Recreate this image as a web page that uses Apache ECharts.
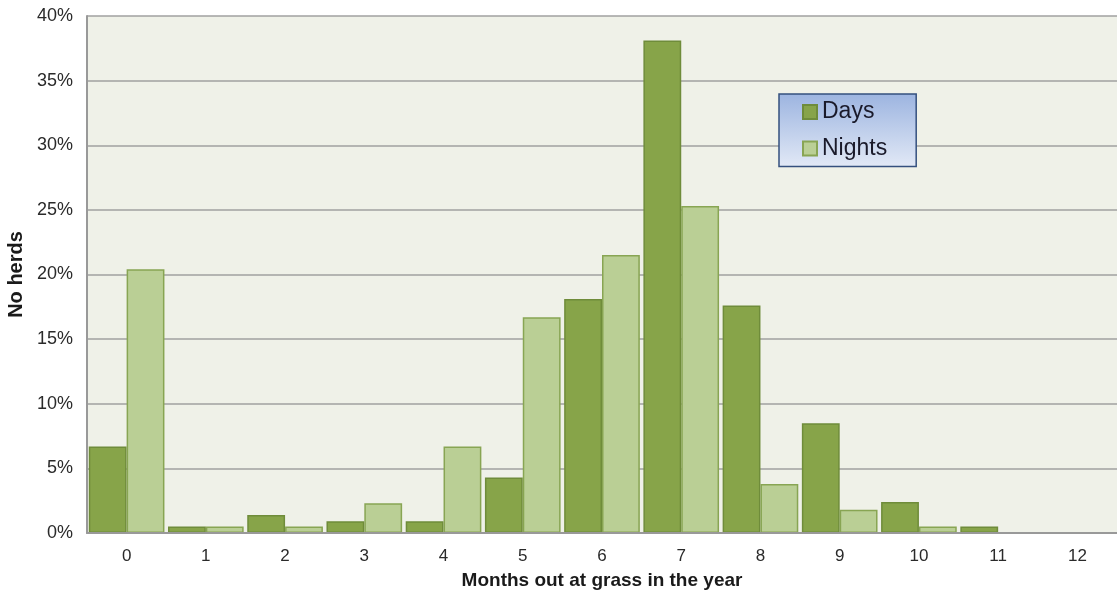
<!DOCTYPE html>
<html><head><meta charset="utf-8">
<script src="https://cdn.jsdelivr.net/npm/echarts@6/dist/echarts.min.js"></script>
<style>html,body{margin:0;padding:0;background:#fff}#c{width:1117px;height:593px}</style>
</head><body><div id="c"></div>
<script>
const categories = ['0','1','2','3','4','5','6','7','8','9','10','11','12'];
const daysValues = [6.7, 0.5, 1.4, 0.9, 0.9, 4.3, 18.1, 38.1, 17.6, 8.5, 2.4, 0.5, 0];
const nightsValues = [20.4, 0.5, 0.5, 2.3, 6.7, 16.7, 21.5, 25.3, 3.8, 1.8, 0.5, 0, 0];
const yTicks = [0, 5, 10, 15, 20, 25, 30, 35, 40];

const chart = echarts.init(document.getElementById('c'), null, {renderer: 'canvas'});
const font = '"Liberation Sans", Arial, sans-serif';
chart.setOption({
  animation: false,
  textStyle: {fontFamily: font},
  grid: {left: 87, right: 0, top: 16, bottom: 60, outerBoundsMode: 'none', containLabel: false,
         show: true, backgroundColor: '#eff1e8', borderWidth: 0},
  legend: {
    orient: 'vertical', left: 779, top: 94,
    padding: [6, 29, 6, 23], itemGap: 12.5, itemWidth: 14, itemHeight: 14,
    icon: 'rect',
    backgroundColor: new echarts.graphic.LinearGradient(0, 0, 0, 1, [
      {offset: 0, color: '#9cb4e0'}, {offset: 1, color: '#e2e9f6'}]),
    borderColor: '#34507e', borderWidth: 1.5,
    textStyle: {fontSize: 23, lineHeight: 24, color: '#1a1a2a', fontFamily: font},
    data: ['Days', 'Nights']
  },
  xAxis: {
    type: 'category', data: categories, z: 3,
    name: 'Months out at grass in the year', nameLocation: 'middle', nameGap: 38,
    nameTextStyle: {fontSize: 19, fontWeight: 'bold', color: '#1a1a1a'},
    axisLine: {lineStyle: {color: '#999999', width: 2}},
    axisTick: {show: false},
    axisLabel: {fontSize: 17, color: '#2a2a2a', margin: 15}
  },
  yAxis: {
    type: 'value', min: 0, max: 40, interval: 5,
    name: 'No herds', nameLocation: 'middle', nameGap: 57, nameRotate: 90,
    nameTextStyle: {fontSize: 20, fontWeight: 'bold', color: '#1a1a1a'},
    axisLine: {show: true, lineStyle: {color: '#999999', width: 2}},
    axisTick: {show: false},
    splitLine: {lineStyle: {color: '#a0a0a0', width: 1.5}},
    axisLabel: {fontSize: 18, color: '#2a2a2a', margin: 14,
      formatter: v => yTicks.includes(v) ? v + '%' : ''}
  },
  series: [
    {name: 'Days', type: 'bar', data: daysValues, barGap: '0%', barCategoryGap: '4.5%',
     itemStyle: {color: '#87a449', borderColor: '#6f8c3a', borderWidth: 1.5}},
    {name: 'Nights', type: 'bar', data: nightsValues,
     itemStyle: {color: '#bacf95', borderColor: '#88a553', borderWidth: 1.5}}
  ]
});
</script></body></html>
